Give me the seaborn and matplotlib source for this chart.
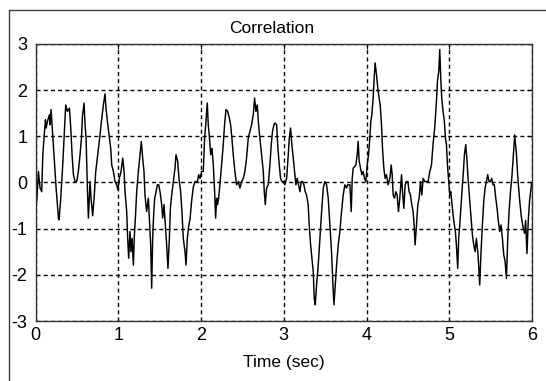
import matplotlib
matplotlib.use("Agg")
import matplotlib.pyplot as plt
from matplotlib.lines import Line2D
import pandas as pd
import seaborn as sns

# ---- data ----
time_sec = [
    0.000, 0.014, 0.034, 0.054, 0.074, 0.087, 0.103, 0.119, 0.127, 0.143,
    0.167, 0.175, 0.187, 0.199, 0.207, 0.223, 0.248, 0.276, 0.284, 0.304,
    0.328, 0.344, 0.364, 0.384, 0.409, 0.425, 0.441, 0.457, 0.477, 0.497,
    0.517, 0.537, 0.554, 0.566, 0.586, 0.598, 0.610, 0.626, 0.638, 0.658,
    0.670, 0.690, 0.707, 0.727, 0.751, 0.779, 0.791, 0.819, 0.839, 0.851,
    0.868, 0.888, 0.908, 0.920, 0.940, 0.960, 0.980, 0.996, 1.012, 1.033,
    1.053, 1.069, 1.081, 1.101, 1.113, 1.125, 1.141, 1.153, 1.166, 1.182,
    1.194, 1.206, 1.222, 1.242, 1.262, 1.278, 1.294, 1.310, 1.322, 1.342,
    1.363, 1.375, 1.391, 1.403, 1.415, 1.427, 1.439, 1.456, 1.472, 1.488,
    1.504, 1.524, 1.536, 1.552, 1.568, 1.584, 1.600, 1.617, 1.629, 1.645,
    1.665, 1.685, 1.697, 1.717, 1.733, 1.753, 1.769, 1.785, 1.806, 1.818,
    1.834, 1.850, 1.866, 1.886, 1.906, 1.926, 1.955, 1.971, 1.987, 2.007,
    2.027, 2.043, 2.059, 2.075, 2.087, 2.099, 2.116, 2.132, 2.148, 2.164,
    2.176, 2.188, 2.200, 2.212, 2.228, 2.248, 2.268, 2.284, 2.301, 2.321,
    2.341, 2.357, 2.373, 2.389, 2.409, 2.429, 2.450, 2.470, 2.490, 2.510,
    2.530, 2.550, 2.570, 2.591, 2.611, 2.631, 2.647, 2.663, 2.679, 2.695,
    2.711, 2.732, 2.752, 2.764, 2.776, 2.792, 2.812, 2.832, 2.848, 2.864,
    2.881, 2.893, 2.913, 2.929, 2.945, 2.961, 2.977, 2.993, 3.013, 3.034,
    3.054, 3.066, 3.082, 3.094, 3.114, 3.130, 3.146, 3.162, 3.178, 3.195,
    3.211, 3.227, 3.243, 3.259, 3.275, 3.295, 3.307, 3.324, 3.340, 3.356,
    3.368, 3.380, 3.396, 3.416, 3.436, 3.457, 3.477, 3.497, 3.517, 3.537,
    3.557, 3.577, 3.594, 3.606, 3.622, 3.638, 3.658, 3.678, 3.698, 3.718,
    3.738, 3.759, 3.771, 3.799, 3.815, 3.827, 3.839, 3.859, 3.871, 3.887,
    3.899, 3.911, 3.927, 3.943, 3.959, 3.975, 3.992, 4.008, 4.024, 4.040,
    4.052, 4.064, 4.080, 4.092, 4.104, 4.120, 4.136, 4.152, 4.165, 4.181,
    4.193, 4.209, 4.225, 4.241, 4.261, 4.282, 4.298, 4.310, 4.322, 4.338,
    4.354, 4.370, 4.386, 4.402, 4.423, 4.435, 4.451, 4.467, 4.483, 4.499,
    4.515, 4.531, 4.547, 4.563, 4.575, 4.587, 4.604, 4.620, 4.636, 4.652,
    4.668, 4.684, 4.704, 4.724, 4.744, 4.765, 4.785, 4.805, 4.825, 4.845,
    4.857, 4.873, 4.885, 4.897, 4.909, 4.925, 4.941, 4.954, 4.966, 4.978,
    4.990, 5.006, 5.018, 5.030, 5.046, 5.062, 5.074, 5.086, 5.102, 5.114,
    5.127, 5.143, 5.159, 5.171, 5.183, 5.199, 5.215, 5.227, 5.239, 5.251,
    5.264, 5.280, 5.296, 5.312, 5.328, 5.348, 5.368, 5.384, 5.400, 5.417,
    5.433, 5.449, 5.465, 5.481, 5.497, 5.513, 5.529, 5.545, 5.562, 5.578,
    5.594, 5.610, 5.626, 5.642, 5.659, 5.675, 5.691, 5.707, 5.723, 5.740,
    5.756, 5.772, 5.791, 5.811, 5.831, 5.851, 5.871, 5.891, 5.911, 5.923,
    5.939, 5.955, 5.971, 5.995,
]
correlation = [
    -0.05, -0.41, 0.24, -0.12, -0.20, 0.60, 1.00, 1.36, 1.18, 1.32,
    1.47, 1.25, 1.58, 1.25, 1.03, 0.60, -0.12, -0.77, -0.81, -0.34,
    0.38, 0.96, 1.68, 1.54, 1.61, 1.18, 0.60, 0.17, 0.02, 0.02,
    0.24, 0.60, 0.96, 1.43, 1.72, 1.25, 0.96, -0.12, -0.77, 0.02,
    -0.34, -0.72, -0.34, 0.24, 0.60, 1.03, 1.25, 1.68, 1.92, 1.61,
    1.32, 1.03, 0.74, 0.38, 0.24, 0.02, -0.05, -0.16, 0.09, 0.24,
    0.53, 0.24, -0.20, -0.63, -1.21, -1.64, -1.06, -1.50, -1.21, -1.79,
    -1.14, -0.77, -0.20, 0.24, 0.60, 0.89, 0.53, 0.24, -0.27, -0.63,
    -0.34, -0.77, -1.35, -2.29, -1.21, -0.70, -0.34, -0.20, -0.05, -0.05,
    -0.20, -0.48, -0.77, -0.48, -0.92, -1.35, -1.86, -1.21, -0.56, -0.27,
    0.02, 0.31, 0.60, 0.46, 0.09, -0.20, -0.63, -1.21, -1.50, -1.79,
    -1.21, -0.95, -0.80, -0.40, -0.10, 0.02, 0.02, 0.17, 0.09, 0.24,
    0.24, 0.96, 1.32, 1.72, 1.25, 1.03, 0.60, 0.74, 0.38, -0.20,
    -0.77, -0.34, -0.48, -0.34, -0.05, 0.38, 0.82, 1.25, 1.58, 1.54,
    1.40, 1.25, 0.96, 0.60, 0.24, -0.05, 0.02, -0.12, 0.02, 0.09,
    0.24, 0.53, 0.96, 1.11, 1.25, 1.47, 1.83, 1.54, 1.68, 1.25,
    0.96, 0.60, 0.24, -0.20, -0.48, -0.12, -0.05, 0.38, 0.82, 1.11,
    1.25, 1.29, 1.25, 0.74, 0.38, 0.09, 0.02, 0.02, -0.05, 0.09,
    0.60, 0.96, 1.18, 0.89, 0.53, 0.24, -0.05, 0.09, -0.05, -0.20,
    0.02, 0.02, -0.05, -0.20, -0.27, -0.48, -0.92, -1.35, -1.64, -1.93,
    -2.51, -2.65, -2.22, -1.79, -1.21, -0.63, -0.12, 0.02, -0.05, -0.34,
    -0.92, -1.50, -2.22, -2.65, -2.22, -1.79, -1.35, -1.06, -0.63, -0.27,
    -0.05, -0.12, -0.05, -0.05, -0.63, 0.09, 0.31, 0.35, 0.38, 0.60,
    0.89, 0.46, 0.31, 0.17, 0.24, 0.09, 0.02, 0.38, 0.60, 0.96,
    1.32, 1.47, 1.83, 2.26, 2.59, 2.34, 2.05, 1.83, 1.68, 1.25,
    0.74, 0.31, 0.09, 0.17, -0.05, 0.09, 0.38, 0.17, -0.27, -0.34,
    -0.20, -0.27, -0.63, -0.34, 0.17, -0.20, -0.56, -0.05, 0.02, 0.02,
    -0.20, -0.27, -0.48, -0.63, -0.92, -1.35, -0.92, -0.48, -0.34, 0.02,
    -0.27, 0.09, 0.02, 0.02, 0.02, 0.24, 0.38, 0.85, 1.20, 1.76,
    2.19, 2.41, 2.88, 2.26, 1.83, 1.54, 1.32, 0.96, 0.82, 0.38,
    0.09, -0.27, -0.20, -0.41, -0.70, -0.92, -1.06, -1.35, -1.86, -1.21,
    -0.92, -0.48, -0.05, 0.24, 0.60, 0.82, 0.46, 0.09, -0.20, -0.48,
    -0.77, -1.14, -1.35, -1.50, -1.21, -1.57, -2.22, -1.50, -0.92, -0.41,
    -0.12, 0.02, 0.17, 0.02, 0.02, 0.09, -0.05, -0.05, -0.34, -0.56,
    -0.85, -1.06, -0.92, -1.21, -1.57, -1.71, -2.08, -1.21, -0.63, -0.20,
    0.09, 0.53, 1.03, 0.63, 0.05, -0.39, -0.74, -0.96, -1.10, -0.82,
    -1.54, -0.82, -0.39, -0.02,
]
x_ticks = [0, 1, 2, 3, 4, 5, 6]
y_ticks = [-3, -2, -1, 0, 1, 2, 3]
x_tick_labels = ["0", "1", "2", "3", "4", "5", "6"]
y_tick_labels = ["-3", "-2", "-1", "0", "1", "2", "3"]
title_text = "Correlation"
xlabel_text = "Time (sec)"

df = pd.DataFrame({"t": time_sec, "v": correlation})

sns.set_theme(style="white")
plt.rcParams["font.family"] = ["Liberation Sans", "DejaVu Sans"]
plt.rcParams["axes.unicode_minus"] = False
plt.rcParams["lines.scale_dashes"] = False

W, H = 546, 381
fig = plt.figure(figsize=(W / 100, H / 100), dpi=100)
fig.patch.set_facecolor("white")

ax_l, ax_r, ax_t, ax_b = 35.6, 532.0, 44.0, 321.0
ax = fig.add_axes([ax_l / W, 1 - ax_b / H, (ax_r - ax_l) / W, (ax_b - ax_t) / H])
ax.set_facecolor("white")

sns.lineplot(data=df, x="t", y="v", ax=ax, color="black", linewidth=1.05,
             estimator=None, sort=False, legend=False)

ax.set_xlim(0, 6)
ax.set_ylim(-3, 3)
ax.set_xticks(x_ticks)
ax.set_xticklabels(x_tick_labels)
ax.set_yticks(y_ticks)
ax.set_yticklabels(y_tick_labels)
ax.set_xlabel("")
ax.set_ylabel("")
ax.grid(True, color="black", linestyle=(0, (2.9, 2.3)), linewidth=1.0)
ax.tick_params(axis="both", direction="in", length=3.5, width=0.8,
               top=True, right=True, labelsize=13, colors="black")
ax.tick_params(axis="x", pad=4)
ax.tick_params(axis="y", pad=6)
for s in ax.spines.values():
    s.set_color("#333333")
    s.set_linewidth(1.0)

fig.text(271.5 / W, 1 - 32.7 / H, title_text, ha="center", va="baseline",
         fontsize=12.5, color="black")
fig.text(284.3 / W, 1 - 366.7 / H, xlabel_text, ha="center", va="baseline",
         fontsize=12.5, color="black")

# outer window frame (left and top edges)
fig.add_artist(Line2D([8.6 / W, 8.6 / W], [0, 1 - 10.4 / H],
                      transform=fig.transFigure, color="#404040", linewidth=1.0))
fig.add_artist(Line2D([8.6 / W, 1], [1 - 10.4 / H, 1 - 10.4 / H],
                      transform=fig.transFigure, color="#404040", linewidth=1.0))

fig.savefig("out.png", dpi=100, facecolor="white")
